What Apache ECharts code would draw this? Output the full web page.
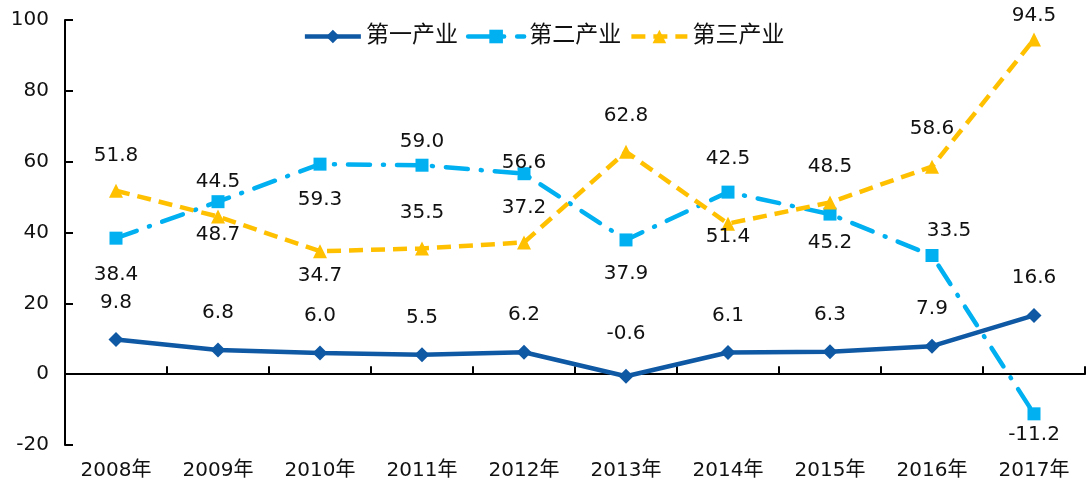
<!DOCTYPE html>
<html>
<head>
<meta charset="utf-8">
<script src="https://cdn.jsdelivr.net/npm/echarts@6/dist/echarts.min.js"></script>
<style>
    html, body { margin: 0; padding: 0; background: #fff; }
    #chart { width: 1087px; height: 486px; }
</style>
</head>
<body>
<div id="chart"></div>
<script>
    // 数据
    var categories = ['2008年', '2009年', '2010年', '2011年', '2012年', '2013年', '2014年', '2015年', '2016年', '2017年'];
    var seriesNames = ['第一产业', '第二产业', '第三产业'];
    var primary = [9.8, 6.8, 6.0, 5.5, 6.2, -0.6, 6.1, 6.3, 7.9, 16.6];
    var secondary = [38.4, 48.7, 59.3, 59.0, 56.6, 37.9, 51.4, 45.2, 33.5, -11.2];
    var tertiary = [51.8, 44.5, 34.7, 35.5, 37.2, 62.8, 42.5, 48.5, 58.6, 94.5];

    var font = '"DejaVu Sans", "Noto Sans CJK SC", sans-serif';

    // 标签偏移（对应原图中手动摆放的数据标签）
    var shiftA = [[0, -37], [0, -37], [0, -37], [0, -37], [0, -37], [0, -42], [0, -37], [0, -37], [0, -37], [0, -38]];
    var shiftB = [[0, 37], [0, 33], [0, 36], [0, -23], [0, -11], [0, 34], [0, 45], [0, 29], [17, -25], [0, 21]];
    var shiftC = [[0, -35], [0, -35], [0, 25], [0, -36], [0, -35], [0, -36], [0, -65], [0, -36], [0, -38], [0, -24]];

    function withLabels(values, shifts) {
        return values.map(function (v, i) {
            return { value: v, label: { offset: shifts[i] } };
        });
    }

    var labelStyle = {
        show: true,
        position: 'inside',
        color: '#111',
        fontSize: 20,
        fontFamily: font,
        formatter: function (p) { return Number(p.value).toFixed(1); }
    };

    var myChart = echarts.init(document.getElementById('chart'));
    var option = {
        animation: false,
        textStyle: { fontFamily: font },
        legend: {
            top: 20,
            left: 'center',
            itemWidth: 56,
            itemHeight: 17,
            itemGap: 8,
            lineStyle: { width: 4.5 },
            textStyle: { fontSize: 23, color: '#111', fontFamily: font },
            data: seriesNames
        },
        grid: { left: 65, right: 2, top: 20, bottom: 41 },
        xAxis: [{
            type: 'category',
            position: 'bottom',
            data: categories,
            boundaryGap: true,
            axisLine: { onZero: true, lineStyle: { color: '#000', width: 2 } },
            axisTick: { show: true, inside: true, length: 8, alignWithLabel: false, lineStyle: { color: '#000', width: 2 } },
            axisLabel: { show: false },
            splitLine: { show: false }
        }, {
            type: 'category',
            position: 'bottom',
            data: categories,
            boundaryGap: true,
            axisLine: { show: false, onZero: false },
            axisTick: { show: false },
            axisLabel: { show: true, color: '#111', fontSize: 20, margin: 16, fontFamily: font },
            splitLine: { show: false }
        }],
        yAxis: {
            type: 'value',
            min: -20,
            max: 100,
            interval: 20,
            axisLine: { show: true, lineStyle: { color: '#000', width: 2 } },
            axisTick: { show: true, inside: true, length: 8, lineStyle: { color: '#000', width: 2 } },
            axisLabel: { color: '#111', fontSize: 20, margin: 16, fontFamily: font },
            splitLine: { show: false }
        },
        series: [{
            name: seriesNames[0],
            type: 'line',
            xAxisIndex: 0,
            data: withLabels(primary, shiftA),
            symbol: 'diamond',
            symbolSize: 15,
            itemStyle: { color: '#0F58A3' },
            lineStyle: { color: '#0F58A3', width: 4.5 },
            label: labelStyle
        }, {
            name: seriesNames[1],
            type: 'line',
            xAxisIndex: 0,
            data: withLabels(secondary, shiftB),
            symbol: 'rect',
            symbolSize: 13,
            itemStyle: { color: '#00B0F0' },
            lineStyle: { color: '#00B0F0', width: 4.5, type: [22, 13, 1, 13], cap: 'round' },
            label: labelStyle
        }, {
            name: seriesNames[2],
            type: 'line',
            xAxisIndex: 0,
            data: withLabels(tertiary, shiftC),
            symbol: 'triangle',
            symbolSize: 14,
            itemStyle: { color: '#FFC000' },
            lineStyle: { color: '#FFC000', width: 4.5, type: [14, 8] },
            label: labelStyle
        }]
    };
    myChart.setOption(option);
</script>
</body>
</html>
